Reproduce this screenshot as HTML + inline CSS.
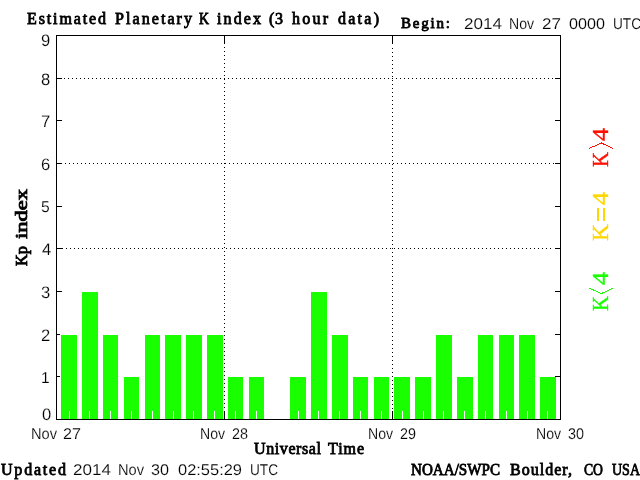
<!DOCTYPE html>
<html><head><meta charset="utf-8">
<style>
html,body{margin:0;padding:0;background:#fff;width:640px;height:480px;overflow:hidden}
svg{display:block;will-change:transform}
.sb{font-family:"Liberation Serif",serif;stroke:currentColor;stroke-width:0.8px}
.ss{font-family:"Liberation Sans",sans-serif;text-rendering:geometricPrecision;stroke:#fff;stroke-width:0.15px}
.sr{font-family:"Liberation Serif",serif;stroke:currentColor;stroke-width:0.4px}
</style></head><body>
<svg width="640" height="480" viewBox="0 0 640 480">
<g shape-rendering="crispEdges">
<rect x="61" y="335" width="16" height="84" fill="#1aff00"/>
<rect x="82" y="292" width="16" height="127" fill="#1aff00"/>
<rect x="103" y="335" width="15" height="84" fill="#1aff00"/>
<rect x="124" y="377" width="15" height="42" fill="#1aff00"/>
<rect x="145" y="335" width="15" height="84" fill="#1aff00"/>
<rect x="165" y="335" width="16" height="84" fill="#1aff00"/>
<rect x="186" y="335" width="16" height="84" fill="#1aff00"/>
<rect x="207" y="335" width="16" height="84" fill="#1aff00"/>
<rect x="228" y="377" width="15" height="42" fill="#1aff00"/>
<rect x="249" y="377" width="15" height="42" fill="#1aff00"/>
<rect x="290" y="377" width="16" height="42" fill="#1aff00"/>
<rect x="311" y="292" width="16" height="127" fill="#1aff00"/>
<rect x="332" y="335" width="16" height="84" fill="#1aff00"/>
<rect x="353" y="377" width="15" height="42" fill="#1aff00"/>
<rect x="374" y="377" width="15" height="42" fill="#1aff00"/>
<rect x="394" y="377" width="16" height="42" fill="#1aff00"/>
<rect x="415" y="377" width="16" height="42" fill="#1aff00"/>
<rect x="436" y="335" width="16" height="84" fill="#1aff00"/>
<rect x="457" y="377" width="16" height="42" fill="#1aff00"/>
<rect x="478" y="335" width="15" height="84" fill="#1aff00"/>
<rect x="499" y="335" width="15" height="84" fill="#1aff00"/>
<rect x="519" y="335" width="16" height="84" fill="#1aff00"/>
<rect x="540" y="377" width="16" height="42" fill="#1aff00"/>
<path d="M69 411h1v8h-1zM89 411h1v8h-1zM110 411h1v8h-1zM131 411h1v8h-1zM152 411h1v8h-1zM173 411h1v8h-1zM193 411h1v8h-1zM214 411h1v8h-1zM235 411h1v8h-1zM256 411h1v8h-1zM277 411h1v8h-1zM298 411h1v8h-1zM318 411h1v8h-1zM339 411h1v8h-1zM360 411h1v8h-1zM381 411h1v8h-1zM402 411h1v8h-1zM423 411h1v8h-1zM443 411h1v8h-1zM464 411h1v8h-1zM485 411h1v8h-1zM506 411h1v8h-1zM527 411h1v8h-1zM547 411h1v8h-1z" fill="#fff"/>
<rect x="56" y="35" width="505" height="1" fill="#000"/>
<rect x="56" y="419" width="505" height="1" fill="#000"/>
<rect x="56" y="35" width="1" height="385" fill="#000"/>
<rect x="560" y="35" width="1" height="385" fill="#000"/>
<rect x="57" y="376" width="3" height="1" fill="#000"/>
<rect x="555" y="376" width="5" height="1" fill="#000"/>
<rect x="57" y="334" width="3" height="1" fill="#000"/>
<rect x="555" y="334" width="5" height="1" fill="#000"/>
<rect x="57" y="291" width="5" height="1" fill="#000"/>
<rect x="555" y="291" width="5" height="1" fill="#000"/>
<rect x="57" y="248" width="6" height="1" fill="#000"/>
<rect x="555" y="248" width="5" height="1" fill="#000"/>
<rect x="57" y="206" width="5" height="1" fill="#000"/>
<rect x="555" y="206" width="5" height="1" fill="#000"/>
<rect x="57" y="163" width="5" height="1" fill="#000"/>
<rect x="555" y="163" width="5" height="1" fill="#000"/>
<rect x="57" y="120" width="5" height="1" fill="#000"/>
<rect x="555" y="120" width="5" height="1" fill="#000"/>
<rect x="57" y="78" width="5" height="1" fill="#000"/>
<rect x="555" y="78" width="5" height="1" fill="#000"/>
<path d="M66 248h1v1h-1zM70 248h1v1h-1zM74 248h1v1h-1zM78 248h1v1h-1zM82 248h1v1h-1zM86 248h1v1h-1zM90 248h1v1h-1zM94 248h1v1h-1zM98 248h1v1h-1zM102 248h1v1h-1zM106 248h1v1h-1zM110 248h1v1h-1zM114 248h1v1h-1zM118 248h1v1h-1zM122 248h1v1h-1zM126 248h1v1h-1zM130 248h1v1h-1zM134 248h1v1h-1zM138 248h1v1h-1zM142 248h1v1h-1zM146 248h1v1h-1zM150 248h1v1h-1zM154 248h1v1h-1zM158 248h1v1h-1zM162 248h1v1h-1zM166 248h1v1h-1zM170 248h1v1h-1zM174 248h1v1h-1zM178 248h1v1h-1zM182 248h1v1h-1zM186 248h1v1h-1zM190 248h1v1h-1zM194 248h1v1h-1zM198 248h1v1h-1zM202 248h1v1h-1zM206 248h1v1h-1zM210 248h1v1h-1zM214 248h1v1h-1zM218 248h1v1h-1zM222 248h1v1h-1zM226 248h1v1h-1zM230 248h1v1h-1zM234 248h1v1h-1zM238 248h1v1h-1zM242 248h1v1h-1zM246 248h1v1h-1zM250 248h1v1h-1zM254 248h1v1h-1zM258 248h1v1h-1zM262 248h1v1h-1zM266 248h1v1h-1zM270 248h1v1h-1zM274 248h1v1h-1zM278 248h1v1h-1zM282 248h1v1h-1zM286 248h1v1h-1zM290 248h1v1h-1zM294 248h1v1h-1zM298 248h1v1h-1zM302 248h1v1h-1zM306 248h1v1h-1zM310 248h1v1h-1zM314 248h1v1h-1zM318 248h1v1h-1zM322 248h1v1h-1zM326 248h1v1h-1zM330 248h1v1h-1zM334 248h1v1h-1zM338 248h1v1h-1zM342 248h1v1h-1zM346 248h1v1h-1zM350 248h1v1h-1zM354 248h1v1h-1zM358 248h1v1h-1zM362 248h1v1h-1zM366 248h1v1h-1zM370 248h1v1h-1zM374 248h1v1h-1zM378 248h1v1h-1zM382 248h1v1h-1zM386 248h1v1h-1zM390 248h1v1h-1zM394 248h1v1h-1zM398 248h1v1h-1zM402 248h1v1h-1zM406 248h1v1h-1zM410 248h1v1h-1zM414 248h1v1h-1zM418 248h1v1h-1zM422 248h1v1h-1zM426 248h1v1h-1zM430 248h1v1h-1zM434 248h1v1h-1zM438 248h1v1h-1zM442 248h1v1h-1zM446 248h1v1h-1zM450 248h1v1h-1zM454 248h1v1h-1zM458 248h1v1h-1zM462 248h1v1h-1zM466 248h1v1h-1zM470 248h1v1h-1zM474 248h1v1h-1zM478 248h1v1h-1zM482 248h1v1h-1zM486 248h1v1h-1zM490 248h1v1h-1zM494 248h1v1h-1zM498 248h1v1h-1zM502 248h1v1h-1zM506 248h1v1h-1zM510 248h1v1h-1zM514 248h1v1h-1zM518 248h1v1h-1zM522 248h1v1h-1zM526 248h1v1h-1zM530 248h1v1h-1zM534 248h1v1h-1zM538 248h1v1h-1zM542 248h1v1h-1zM546 248h1v1h-1zM550 248h1v1h-1z" fill="#000"/>
<path d="M65 163h1v1h-1zM69 163h1v1h-1zM73 163h1v1h-1zM77 163h1v1h-1zM81 163h1v1h-1zM85 163h1v1h-1zM89 163h1v1h-1zM93 163h1v1h-1zM97 163h1v1h-1zM101 163h1v1h-1zM105 163h1v1h-1zM109 163h1v1h-1zM113 163h1v1h-1zM117 163h1v1h-1zM121 163h1v1h-1zM125 163h1v1h-1zM129 163h1v1h-1zM133 163h1v1h-1zM137 163h1v1h-1zM141 163h1v1h-1zM145 163h1v1h-1zM149 163h1v1h-1zM153 163h1v1h-1zM157 163h1v1h-1zM161 163h1v1h-1zM165 163h1v1h-1zM169 163h1v1h-1zM173 163h1v1h-1zM177 163h1v1h-1zM181 163h1v1h-1zM185 163h1v1h-1zM189 163h1v1h-1zM193 163h1v1h-1zM197 163h1v1h-1zM201 163h1v1h-1zM205 163h1v1h-1zM209 163h1v1h-1zM213 163h1v1h-1zM217 163h1v1h-1zM221 163h1v1h-1zM225 163h1v1h-1zM229 163h1v1h-1zM233 163h1v1h-1zM237 163h1v1h-1zM241 163h1v1h-1zM245 163h1v1h-1zM249 163h1v1h-1zM253 163h1v1h-1zM257 163h1v1h-1zM261 163h1v1h-1zM265 163h1v1h-1zM269 163h1v1h-1zM273 163h1v1h-1zM277 163h1v1h-1zM281 163h1v1h-1zM285 163h1v1h-1zM289 163h1v1h-1zM293 163h1v1h-1zM297 163h1v1h-1zM301 163h1v1h-1zM305 163h1v1h-1zM309 163h1v1h-1zM313 163h1v1h-1zM317 163h1v1h-1zM321 163h1v1h-1zM325 163h1v1h-1zM329 163h1v1h-1zM333 163h1v1h-1zM337 163h1v1h-1zM341 163h1v1h-1zM345 163h1v1h-1zM349 163h1v1h-1zM353 163h1v1h-1zM357 163h1v1h-1zM361 163h1v1h-1zM365 163h1v1h-1zM369 163h1v1h-1zM373 163h1v1h-1zM377 163h1v1h-1zM381 163h1v1h-1zM385 163h1v1h-1zM389 163h1v1h-1zM393 163h1v1h-1zM397 163h1v1h-1zM401 163h1v1h-1zM405 163h1v1h-1zM409 163h1v1h-1zM413 163h1v1h-1zM417 163h1v1h-1zM421 163h1v1h-1zM425 163h1v1h-1zM429 163h1v1h-1zM433 163h1v1h-1zM437 163h1v1h-1zM441 163h1v1h-1zM445 163h1v1h-1zM449 163h1v1h-1zM453 163h1v1h-1zM457 163h1v1h-1zM461 163h1v1h-1zM465 163h1v1h-1zM469 163h1v1h-1zM473 163h1v1h-1zM477 163h1v1h-1zM481 163h1v1h-1zM485 163h1v1h-1zM489 163h1v1h-1zM493 163h1v1h-1zM497 163h1v1h-1zM501 163h1v1h-1zM505 163h1v1h-1zM509 163h1v1h-1zM513 163h1v1h-1zM517 163h1v1h-1zM521 163h1v1h-1zM525 163h1v1h-1zM529 163h1v1h-1zM533 163h1v1h-1zM537 163h1v1h-1zM541 163h1v1h-1zM545 163h1v1h-1zM549 163h1v1h-1zM553 163h1v1h-1z" fill="#000"/>
<path d="M64 78h1v1h-1zM68 78h1v1h-1zM72 78h1v1h-1zM76 78h1v1h-1zM80 78h1v1h-1zM84 78h1v1h-1zM88 78h1v1h-1zM92 78h1v1h-1zM96 78h1v1h-1zM100 78h1v1h-1zM104 78h1v1h-1zM108 78h1v1h-1zM112 78h1v1h-1zM116 78h1v1h-1zM120 78h1v1h-1zM124 78h1v1h-1zM128 78h1v1h-1zM132 78h1v1h-1zM136 78h1v1h-1zM140 78h1v1h-1zM144 78h1v1h-1zM148 78h1v1h-1zM152 78h1v1h-1zM156 78h1v1h-1zM160 78h1v1h-1zM164 78h1v1h-1zM168 78h1v1h-1zM172 78h1v1h-1zM176 78h1v1h-1zM180 78h1v1h-1zM184 78h1v1h-1zM188 78h1v1h-1zM192 78h1v1h-1zM196 78h1v1h-1zM200 78h1v1h-1zM204 78h1v1h-1zM208 78h1v1h-1zM212 78h1v1h-1zM216 78h1v1h-1zM220 78h1v1h-1zM224 78h1v1h-1zM228 78h1v1h-1zM232 78h1v1h-1zM236 78h1v1h-1zM240 78h1v1h-1zM244 78h1v1h-1zM248 78h1v1h-1zM252 78h1v1h-1zM256 78h1v1h-1zM260 78h1v1h-1zM264 78h1v1h-1zM268 78h1v1h-1zM272 78h1v1h-1zM276 78h1v1h-1zM280 78h1v1h-1zM284 78h1v1h-1zM288 78h1v1h-1zM292 78h1v1h-1zM296 78h1v1h-1zM300 78h1v1h-1zM304 78h1v1h-1zM308 78h1v1h-1zM312 78h1v1h-1zM316 78h1v1h-1zM320 78h1v1h-1zM324 78h1v1h-1zM328 78h1v1h-1zM332 78h1v1h-1zM336 78h1v1h-1zM340 78h1v1h-1zM344 78h1v1h-1zM348 78h1v1h-1zM352 78h1v1h-1zM356 78h1v1h-1zM360 78h1v1h-1zM364 78h1v1h-1zM368 78h1v1h-1zM372 78h1v1h-1zM376 78h1v1h-1zM380 78h1v1h-1zM384 78h1v1h-1zM388 78h1v1h-1zM392 78h1v1h-1zM396 78h1v1h-1zM400 78h1v1h-1zM404 78h1v1h-1zM408 78h1v1h-1zM412 78h1v1h-1zM416 78h1v1h-1zM420 78h1v1h-1zM424 78h1v1h-1zM428 78h1v1h-1zM432 78h1v1h-1zM436 78h1v1h-1zM440 78h1v1h-1zM444 78h1v1h-1zM448 78h1v1h-1zM452 78h1v1h-1zM456 78h1v1h-1zM460 78h1v1h-1zM464 78h1v1h-1zM468 78h1v1h-1zM472 78h1v1h-1zM476 78h1v1h-1zM480 78h1v1h-1zM484 78h1v1h-1zM488 78h1v1h-1zM492 78h1v1h-1zM496 78h1v1h-1zM500 78h1v1h-1zM504 78h1v1h-1zM508 78h1v1h-1zM512 78h1v1h-1zM516 78h1v1h-1zM520 78h1v1h-1zM524 78h1v1h-1zM528 78h1v1h-1zM532 78h1v1h-1zM536 78h1v1h-1zM540 78h1v1h-1zM544 78h1v1h-1zM548 78h1v1h-1zM552 78h1v1h-1z" fill="#000"/>
<path d="M224 47h1v1h-1zM224 51h1v1h-1zM224 55h1v1h-1zM224 59h1v1h-1zM224 63h1v1h-1zM224 67h1v1h-1zM224 71h1v1h-1zM224 75h1v1h-1zM224 79h1v1h-1zM224 83h1v1h-1zM224 87h1v1h-1zM224 91h1v1h-1zM224 95h1v1h-1zM224 99h1v1h-1zM224 103h1v1h-1zM224 107h1v1h-1zM224 111h1v1h-1zM224 115h1v1h-1zM224 119h1v1h-1zM224 123h1v1h-1zM224 127h1v1h-1zM224 131h1v1h-1zM224 135h1v1h-1zM224 139h1v1h-1zM224 143h1v1h-1zM224 147h1v1h-1zM224 151h1v1h-1zM224 155h1v1h-1zM224 159h1v1h-1zM224 163h1v1h-1zM224 167h1v1h-1zM224 171h1v1h-1zM224 175h1v1h-1zM224 179h1v1h-1zM224 183h1v1h-1zM224 187h1v1h-1zM224 191h1v1h-1zM224 195h1v1h-1zM224 199h1v1h-1zM224 203h1v1h-1zM224 207h1v1h-1zM224 211h1v1h-1zM224 215h1v1h-1zM224 219h1v1h-1zM224 223h1v1h-1zM224 227h1v1h-1zM224 231h1v1h-1zM224 235h1v1h-1zM224 239h1v1h-1zM224 243h1v1h-1zM224 247h1v1h-1zM224 251h1v1h-1zM224 255h1v1h-1zM224 259h1v1h-1zM224 263h1v1h-1zM224 267h1v1h-1zM224 271h1v1h-1zM224 275h1v1h-1zM224 279h1v1h-1zM224 283h1v1h-1zM224 287h1v1h-1zM224 291h1v1h-1zM224 295h1v1h-1zM224 299h1v1h-1zM224 303h1v1h-1zM224 307h1v1h-1zM224 311h1v1h-1zM224 315h1v1h-1zM224 319h1v1h-1zM224 323h1v1h-1zM224 327h1v1h-1zM224 331h1v1h-1zM224 335h1v1h-1zM224 339h1v1h-1zM224 343h1v1h-1zM224 347h1v1h-1zM224 351h1v1h-1zM224 355h1v1h-1zM224 359h1v1h-1zM224 363h1v1h-1zM224 367h1v1h-1zM224 371h1v1h-1zM224 375h1v1h-1zM224 379h1v1h-1zM224 383h1v1h-1zM224 387h1v1h-1zM224 391h1v1h-1zM224 395h1v1h-1zM224 399h1v1h-1zM224 403h1v1h-1zM224 407h1v1h-1z" fill="#000"/>
<rect x="224" y="36" width="1" height="8" fill="#000"/>
<rect x="224" y="411" width="1" height="8" fill="#000"/>
<path d="M392 48h1v1h-1zM392 52h1v1h-1zM392 56h1v1h-1zM392 60h1v1h-1zM392 64h1v1h-1zM392 68h1v1h-1zM392 72h1v1h-1zM392 76h1v1h-1zM392 80h1v1h-1zM392 84h1v1h-1zM392 88h1v1h-1zM392 92h1v1h-1zM392 96h1v1h-1zM392 100h1v1h-1zM392 104h1v1h-1zM392 108h1v1h-1zM392 112h1v1h-1zM392 116h1v1h-1zM392 120h1v1h-1zM392 124h1v1h-1zM392 128h1v1h-1zM392 132h1v1h-1zM392 136h1v1h-1zM392 140h1v1h-1zM392 144h1v1h-1zM392 148h1v1h-1zM392 152h1v1h-1zM392 156h1v1h-1zM392 160h1v1h-1zM392 164h1v1h-1zM392 168h1v1h-1zM392 172h1v1h-1zM392 176h1v1h-1zM392 180h1v1h-1zM392 184h1v1h-1zM392 188h1v1h-1zM392 192h1v1h-1zM392 196h1v1h-1zM392 200h1v1h-1zM392 204h1v1h-1zM392 208h1v1h-1zM392 212h1v1h-1zM392 216h1v1h-1zM392 220h1v1h-1zM392 224h1v1h-1zM392 228h1v1h-1zM392 232h1v1h-1zM392 236h1v1h-1zM392 240h1v1h-1zM392 244h1v1h-1zM392 248h1v1h-1zM392 252h1v1h-1zM392 256h1v1h-1zM392 260h1v1h-1zM392 264h1v1h-1zM392 268h1v1h-1zM392 272h1v1h-1zM392 276h1v1h-1zM392 280h1v1h-1zM392 284h1v1h-1zM392 288h1v1h-1zM392 292h1v1h-1zM392 296h1v1h-1zM392 300h1v1h-1zM392 304h1v1h-1zM392 308h1v1h-1zM392 312h1v1h-1zM392 316h1v1h-1zM392 320h1v1h-1zM392 324h1v1h-1zM392 328h1v1h-1zM392 332h1v1h-1zM392 336h1v1h-1zM392 340h1v1h-1zM392 344h1v1h-1zM392 348h1v1h-1zM392 352h1v1h-1zM392 356h1v1h-1zM392 360h1v1h-1zM392 364h1v1h-1zM392 368h1v1h-1zM392 372h1v1h-1zM392 376h1v1h-1zM392 380h1v1h-1zM392 384h1v1h-1zM392 388h1v1h-1zM392 392h1v1h-1zM392 396h1v1h-1zM392 400h1v1h-1zM392 404h1v1h-1zM392 408h1v1h-1z" fill="#000"/>
<rect x="392" y="36" width="1" height="8" fill="#000"/>
<rect x="392" y="411" width="1" height="8" fill="#000"/>
</g>
<text class="sb" font-size="16" textLength="79.00" lengthAdjust="spacing" style="color:#000" fill="#000" x="27.00" y="23.60">Estimated</text>
<text class="sb" font-size="16" textLength="77.00" lengthAdjust="spacing" style="color:#000" fill="#000" x="115.00" y="23.60">Planetary</text>
<text class="sb" font-size="16" textLength="10.00" lengthAdjust="spacingAndGlyphs" style="color:#000" fill="#000" x="199.00" y="23.60">K</text>
<text class="sb" font-size="16" textLength="44.00" lengthAdjust="spacing" style="color:#000" fill="#000" x="217.00" y="23.60">index</text>
<text class="sb" font-size="16" textLength="14.00" lengthAdjust="spacing" style="color:#000" fill="#000" x="269.00" y="23.60">(3</text>
<text class="sb" font-size="16" textLength="36.00" lengthAdjust="spacing" style="color:#000" fill="#000" x="292.00" y="23.60">hour</text>
<text class="sb" font-size="16" textLength="41.00" lengthAdjust="spacing" style="color:#000" fill="#000" x="338.00" y="23.60">data)</text>
<text class="sb" font-size="15" textLength="49.00" lengthAdjust="spacing" style="color:#000" fill="#000" x="401.00" y="27.80">Begin:</text>
<text class="ss" font-size="15.6" textLength="38.00" lengthAdjust="spacingAndGlyphs" style="color:#000" fill="#000" x="464.00" y="29.00">2014</text>
<text class="ss" font-size="15.6" textLength="25.00" lengthAdjust="spacingAndGlyphs" style="color:#000" fill="#000" x="509.00" y="29.00">Nov</text>
<text class="ss" font-size="15.6" textLength="19.00" lengthAdjust="spacingAndGlyphs" style="color:#000" fill="#000" x="542.00" y="29.00">27</text>
<text class="ss" font-size="15.6" textLength="36.00" lengthAdjust="spacingAndGlyphs" style="color:#000" fill="#000" x="569.00" y="29.00">0000</text>
<text class="ss" font-size="15.6" textLength="28.00" lengthAdjust="spacingAndGlyphs" style="color:#000" fill="#000" x="613.00" y="29.00">UTC</text>
<text class="ss" font-size="16.6" style="color:#000" fill="#000" x="42.00" y="420.00">0</text>
<text class="ss" font-size="15.6" style="color:#000" fill="#000" x="41.00" y="383.00">1</text>
<text class="ss" font-size="16.6" style="color:#000" fill="#000" x="41.00" y="341.00">2</text>
<text class="ss" font-size="16.6" style="color:#000" fill="#000" x="41.00" y="298.00">3</text>
<text class="ss" font-size="16.6" style="color:#000" fill="#000" x="42.00" y="255.00">4</text>
<text class="ss" font-size="15.6" style="color:#000" fill="#000" x="41.00" y="212.00">5</text>
<text class="ss" font-size="16.6" style="color:#000" fill="#000" x="41.00" y="170.00">6</text>
<text class="ss" font-size="16.6" style="color:#000" fill="#000" x="41.00" y="127.00">7</text>
<text class="ss" font-size="16.6" style="color:#000" fill="#000" x="41.00" y="85.00">8</text>
<text class="ss" font-size="16.6" style="color:#000" fill="#000" x="41.00" y="46.00">9</text>
<text class="ss" font-size="15.6" textLength="26.00" lengthAdjust="spacingAndGlyphs" style="color:#000" fill="#000" x="31.00" y="439.00">Nov</text>
<text class="ss" font-size="15.6" textLength="18.00" lengthAdjust="spacingAndGlyphs" style="color:#000" fill="#000" x="63.00" y="439.00">27</text>
<text class="ss" font-size="15.6" textLength="25.00" lengthAdjust="spacingAndGlyphs" style="color:#000" fill="#000" x="200.00" y="439.00">Nov</text>
<text class="ss" font-size="15.6" textLength="16.00" lengthAdjust="spacingAndGlyphs" style="color:#000" fill="#000" x="232.00" y="439.00">28</text>
<text class="ss" font-size="15.6" textLength="25.00" lengthAdjust="spacingAndGlyphs" style="color:#000" fill="#000" x="368.00" y="439.00">Nov</text>
<text class="ss" font-size="15.6" textLength="16.00" lengthAdjust="spacingAndGlyphs" style="color:#000" fill="#000" x="400.00" y="439.00">29</text>
<text class="ss" font-size="15.6" textLength="25.00" lengthAdjust="spacingAndGlyphs" style="color:#000" fill="#000" x="536.00" y="439.00">Nov</text>
<text class="ss" font-size="15.6" textLength="16.00" lengthAdjust="spacingAndGlyphs" style="color:#000" fill="#000" x="568.00" y="439.00">30</text>
<text class="sb" font-size="16" textLength="67.00" lengthAdjust="spacing" style="color:#000" fill="#000" x="254.00" y="453.60">Universal</text>
<text class="sb" font-size="16" textLength="36.00" lengthAdjust="spacing" style="color:#000" fill="#000" x="328.00" y="453.60">Time</text>
<text class="sb" font-size="16" textLength="65.00" lengthAdjust="spacing" style="color:#000" fill="#000" x="1.00" y="474.60">Updated</text>
<text class="ss" font-size="15.6" textLength="38.00" lengthAdjust="spacingAndGlyphs" style="color:#000" fill="#000" x="73.00" y="475.00">2014</text>
<text class="ss" font-size="15.6" textLength="26.00" lengthAdjust="spacingAndGlyphs" style="color:#000" fill="#000" x="118.00" y="475.00">Nov</text>
<text class="ss" font-size="15.6" textLength="18.00" lengthAdjust="spacingAndGlyphs" style="color:#000" fill="#000" x="151.00" y="475.00">30</text>
<text class="ss" font-size="15.6" textLength="64.00" lengthAdjust="spacingAndGlyphs" style="color:#000" fill="#000" x="178.00" y="475.00">02:55:29</text>
<text class="ss" font-size="15.6" textLength="28.00" lengthAdjust="spacingAndGlyphs" style="color:#000" fill="#000" x="250.00" y="475.00">UTC</text>
<text class="sb" font-size="16" textLength="89.00" lengthAdjust="spacingAndGlyphs" style="color:#000" fill="#000" x="411.00" y="474.60">NOAA/SWPC</text>
<text class="sb" font-size="16" textLength="62.00" lengthAdjust="spacing" style="color:#000" fill="#000" x="510.00" y="474.60">Boulder,</text>
<text class="sb" font-size="16" textLength="19.00" lengthAdjust="spacingAndGlyphs" style="color:#000" fill="#000" x="584.00" y="474.60">CO</text>
<text class="sb" font-size="16" textLength="28.00" lengthAdjust="spacingAndGlyphs" style="color:#000" fill="#000" x="612.00" y="474.60">USA</text>
<text class="sb" font-size="16" textLength="20.00" lengthAdjust="spacingAndGlyphs" style="color:#000" fill="#000" transform="translate(26.60,266.00) rotate(-90)">Kp</text>
<text class="sb" font-size="16" textLength="50.00" lengthAdjust="spacingAndGlyphs" style="color:#000" fill="#000" transform="translate(26.60,239.00) rotate(-90)">index</text>
<text class="sr" font-size="24" textLength="15.00" lengthAdjust="spacingAndGlyphs" style="color:#ff1000" fill="#ff1000" transform="translate(608.00,167.00) rotate(-90)">K</text>
<text class="sr" font-size="24" textLength="13.00" lengthAdjust="spacingAndGlyphs" style="color:#ff1000" fill="#ff1000" transform="translate(608.00,141.00) rotate(-90)">4</text>
<text class="sr" font-size="24" textLength="17.00" lengthAdjust="spacingAndGlyphs" style="color:#ffd700" fill="#ffd700" transform="translate(608.00,241.00) rotate(-90)">K</text>
<text class="sr" font-size="24" textLength="13.00" lengthAdjust="spacingAndGlyphs" style="color:#ffd700" fill="#ffd700" transform="translate(608.00,205.00) rotate(-90)">4</text>
<text class="sr" font-size="24" textLength="15.00" lengthAdjust="spacingAndGlyphs" style="color:#1aff00" fill="#1aff00" transform="translate(608.00,311.00) rotate(-90)">K</text>
<text class="sr" font-size="24" textLength="13.00" lengthAdjust="spacingAndGlyphs" style="color:#1aff00" fill="#1aff00" transform="translate(608.00,285.00) rotate(-90)">4</text>
<polyline points="589,148.5 601.5,143 613,148.5" fill="none" stroke="#ff1000" stroke-width="1" shape-rendering="crispEdges"/>
<rect x="597" y="208" width="2" height="13" fill="#ffd700"/>
<rect x="603" y="208" width="2" height="13" fill="#ffd700"/>
<polyline points="589,288 601.5,293.5 613,288" fill="none" stroke="#1aff00" stroke-width="1" shape-rendering="crispEdges"/>
</svg>
</body></html>
